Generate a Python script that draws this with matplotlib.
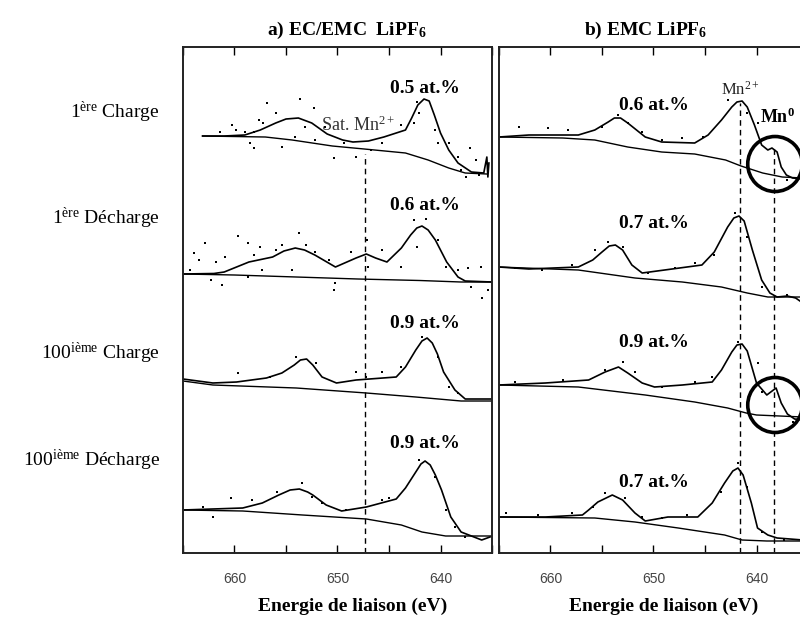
import matplotlib
matplotlib.use("Agg")
import matplotlib.pyplot as plt
from matplotlib.patches import Ellipse

plt.rcParams['font.family'] = 'Liberation Serif'
plt.rcParams['mathtext.fontset'] = 'custom'
plt.rcParams['mathtext.rm'] = 'Liberation Serif'
plt.rcParams['mathtext.bf'] = 'Liberation Serif:bold'
plt.rcParams['mathtext.it'] = 'Liberation Serif:italic'

# ---- a) EC/EMC LiPF6 : (energie eV, intensite u.a. empilee) ----
a1_env = [(663.1, 41.7), (661, 41.7), (659, 41.8), (657.5, 42.3), (656, 43.0), (655, 43.4),
          (653.8, 43.5), (652.5, 43.0), (651, 41.9), (649.5, 41.3), (648.5, 41.1), (647, 41.2),
          (645.5, 41.6), (644, 42.1), (643.4, 42.3), (642.8, 43.5), (642.2, 44.8), (641.6, 45.4),
          (641.1, 45.2), (640.6, 43.8), (640.0, 42.0), (639.2, 40.3), (638.3, 39.0), (637, 38.1),
          (635.8, 38.0), (635.5, 39.6), (635.4, 37.6), (635.3, 39.0)]
a1_bg = [(663.1, 41.7), (657, 41.6), (654.4, 41.3), (650.5, 40.7), (647.4, 40.4), (643.4, 40.0),
         (641.2, 39.3), (639.2, 38.5), (637.6, 38.0), (635.5, 37.9)]
a1_pts = [(656.8, 45.0), (653.6, 45.4), (656.0, 44.0), (657.6, 43.3), (657.2, 43.0), (659.9, 42.3),
          (659.0, 42.1), (658.1, 42.1), (658.5, 41.0), (658.1, 40.5), (655.4, 40.6), (654.1, 41.6),
          (653.2, 42.6), (652.3, 44.5), (652.2, 41.3), (651.2, 42.6), (650.3, 39.5), (661.4, 42.1),
          (660.2, 42.8), (642.3, 45.1), (642.1, 44.0), (642.6, 43.0), (640.5, 42.3), (640.2, 41.0),
          (639.2, 41.0), (638.3, 39.6), (637.1, 40.5), (636.6, 39.3), (638.0, 38.3), (637.5, 37.6),
          (636.3, 37.8), (646.7, 40.3), (648.2, 39.6), (649.4, 41.0), (645.7, 41.0), (643.8, 42.8)]

a2_env = [(665, 27.9), (662, 27.95), (661, 28.1), (658.6, 29.1), (656.3, 29.6), (655.2, 30.2),
          (654.1, 30.5), (653.2, 30.3), (652.2, 29.8), (650.2, 28.6), (648.2, 29.5), (647.2, 29.9),
          (646.3, 29.5), (645.2, 29.1), (643.8, 30.5), (642.9, 31.8), (642.3, 32.5), (641.8, 32.7),
          (641.2, 32.3), (640.5, 31.3), (639.4, 29.1), (638.3, 27.6), (637.6, 27.2), (635, 27.1)]
a2_bg = [(665, 27.9), (660, 27.8), (654, 27.6), (648, 27.4), (642, 27.25), (638, 27.1), (635, 27.1)]
a2_pts = [(662.9, 31.0), (663.9, 30.0), (663.4, 29.3), (661.8, 29.1), (660.9, 29.6), (664.3, 28.3),
          (662.3, 27.3), (661.2, 26.8), (659.7, 31.7), (658.7, 31.0), (657.5, 30.6), (658.1, 29.8),
          (656.0, 30.3), (655.4, 30.8), (653.7, 32.0), (653.1, 30.8), (652.2, 30.1), (650.8, 29.3),
          (650.2, 27.0), (650.3, 26.3), (657.3, 28.3), (658.7, 27.6), (654.4, 28.3), (647.1, 31.3),
          (645.7, 30.3), (648.7, 30.1), (647.0, 28.6), (642.6, 33.3), (641.4, 33.4), (642.3, 30.6),
          (640.2, 31.3), (638.3, 28.3), (637.3, 28.5), (636.1, 28.6), (637.0, 26.6), (636.0, 25.5),
          (635.4, 26.3), (643.8, 28.6), (639.5, 28.6)]

a3_env = [(665, 17.4), (662.1, 17.0), (659.8, 17.1), (656.9, 17.5), (655.4, 18.0), (654.2, 18.8),
          (653.6, 19.3), (653.0, 19.4), (652.4, 18.8), (651.5, 17.6), (650.1, 17.0), (648.2, 17.3),
          (644.3, 17.6), (643.4, 18.6), (642.4, 20.3), (641.8, 21.2), (641.3, 21.5), (640.8, 21.0),
          (640.3, 19.9), (639.7, 18.1), (638.6, 16.3), (637.6, 15.4), (635, 15.4)]
a3_bg = [(665, 17.2), (662.1, 16.8), (654, 16.5), (647.2, 16.0), (642.4, 15.6), (638, 15.2), (635, 15.2)]
a3_pts = [(659.7, 18.0), (656.6, 17.6), (654.0, 19.6), (652.1, 19.0), (648.2, 18.1), (647.2, 17.6),
          (645.7, 18.1), (643.8, 18.6), (640.2, 19.6), (639.2, 16.6), (638.3, 16.0), (641.8, 21.6)]

a4_env = [(665, 4.3), (659.2, 4.5), (657.3, 5.0), (655.7, 5.8), (654.6, 6.3), (653.7, 6.4),
          (652.9, 6.1), (652.4, 5.8), (651.1, 4.8), (649.6, 4.2), (647.2, 4.6), (644.3, 5.4),
          (643.4, 6.5), (642.4, 8.1), (641.9, 8.9), (641.5, 9.2), (641.0, 8.8), (640.5, 7.8),
          (639.9, 6.3), (639.0, 3.6), (638.0, 2.1), (637, 1.7), (636, 1.3), (635.2, 1.6)]
a4_bg = [(665, 4.3), (659.2, 4.2), (653.4, 3.8), (647.2, 3.4), (643.8, 2.8), (641.8, 2.1), (639.5, 1.7), (635, 1.7)]
a4_pts = [(663.1, 4.6), (662.1, 3.6), (660.3, 5.5), (658.3, 5.3), (655.9, 6.1), (653.4, 7.0),
          (652.5, 5.6), (651.5, 5.0), (649.2, 4.3), (645.7, 5.3), (645.0, 5.5), (642.1, 9.3),
          (640.5, 7.6), (639.5, 4.3), (638.6, 2.6), (637.6, 1.6)]

# ---- b) EMC LiPF6 ----
b1_env = [(665, 41.6), (662.1, 41.8), (657.3, 41.8), (655.7, 42.3), (654.4, 43.1), (653.8, 43.5),
          (653.2, 43.5), (652.5, 43.0), (650.8, 41.6), (649.2, 41.1), (646, 41.0), (644.7, 41.8),
          (643.4, 43.3), (642.4, 44.6), (641.9, 45.1), (641.4, 45.2), (640.9, 44.6), (640.2, 42.8),
          (639.5, 40.8), (638.9, 40.3), (638.5, 40.5), (638.0, 40.1), (637.6, 38.6), (637.1, 37.8),
          (636.5, 37.5), (635.5, 37.4)]
b1_bg = [(665, 41.6), (658.8, 41.5), (655.7, 41.3), (652.5, 40.6), (649.2, 40.1), (646, 39.9),
         (643, 39.3), (641.5, 38.7), (639.4, 38.0), (637.5, 37.6), (635.5, 37.5)]
b1_pts = [(663.1, 42.6), (660.2, 42.5), (658.3, 42.3), (655.0, 42.6), (653.4, 43.8), (652.5, 43.0),
          (651.1, 42.1), (649.2, 41.3), (647.2, 41.5), (645.2, 41.6), (642.8, 45.3), (640.9, 44.0),
          (639.9, 43.0), (637.0, 37.3)]

b2_env = [(665, 28.6), (662.1, 28.4), (657.3, 28.6), (655.9, 29.3), (655, 30.1), (654.3, 30.7),
          (653.7, 30.8), (653, 30.3), (652.1, 28.8), (651.1, 28.0), (648.2, 28.4), (645.3, 28.8),
          (644.1, 30.1), (642.8, 32.6), (642.2, 33.5), (641.7, 33.7), (641.2, 33.2), (640.4, 30.3),
          (639.5, 27.3), (638.7, 26.0), (638.0, 25.6), (637.0, 25.7), (636.2, 25.5), (635.5, 25.0)]
b2_bg = [(665, 28.6), (657.3, 28.3), (651.8, 27.5), (647.2, 27.1), (643.4, 26.6), (640.9, 26.0),
         (638.9, 25.6), (635.5, 25.6)]
b2_pts = [(663.4, 28.5), (660.8, 28.3), (657.9, 28.8), (655.7, 30.3), (654.4, 31.1), (653.0, 30.6),
          (650.5, 28.0), (647.9, 28.5), (646.0, 29.0), (644.1, 29.8), (642.1, 34.0), (640.9, 31.6),
          (639.5, 26.6), (637.0, 25.8)]

b3_env = [(665, 16.8), (660.5, 17.0), (656.3, 17.3), (654.7, 18.1), (653.4, 18.6), (652.5, 18.0),
          (651.1, 17.0), (649.9, 16.6), (647.2, 16.8), (644.3, 17.1), (643.4, 18.3), (642.4, 20.1),
          (641.9, 20.8), (641.4, 20.9), (640.9, 20.2), (640.0, 17.0), (639.0, 15.8), (638.1, 16.5),
          (637.6, 15.0), (637.0, 13.9), (636.3, 13.4), (635.5, 13.3)]
b3_bg = [(665, 16.8), (657.3, 16.6), (650.8, 15.8), (646, 15.1), (642.8, 14.5), (641, 14.0),
         (640, 13.8), (635.5, 13.6)]
b3_pts = [(663.4, 17.1), (658.8, 17.3), (654.7, 18.3), (653.0, 19.1), (651.8, 18.1), (649.2, 16.6),
          (646.0, 17.1), (644.3, 17.6), (641.8, 21.1), (639.9, 19.0), (639.5, 16.1), (636.5, 13.1)]

b4_env = [(665, 3.6), (660.5, 3.6), (656.9, 3.8), (656.3, 4.3), (655.4, 5.1), (654, 5.8),
          (653, 5.3), (651.8, 4.0), (650.8, 3.2), (648.6, 3.6), (645.7, 3.6), (644.3, 5.0),
          (643.1, 7.0), (642.3, 8.2), (641.8, 8.5), (641.3, 7.8), (640.5, 5.0), (639.9, 2.5),
          (638.9, 1.8), (638.0, 1.5), (635.5, 1.3)]
b4_bg = [(665, 3.6), (655.7, 3.5), (651.8, 3.1), (647.6, 2.5), (643.1, 1.8), (641.4, 1.3),
         (639, 1.2), (635.5, 1.2)]
b4_pts = [(664.3, 4.0), (661.2, 3.8), (657.9, 4.0), (655.9, 4.6), (654.7, 6.0), (652.8, 5.5),
          (651.1, 3.6), (649.2, 3.5), (646.7, 3.8), (643.4, 6.1), (641.8, 9.0), (640.9, 6.6),
          (639.5, 2.1), (637.3, 1.3)]

rows = ["1$^{\\mathrm{ère}}$ Charge", "1$^{\\mathrm{ère}}$ Décharge",
        "100$^{\\mathrm{ième}}$ Charge", "100$^{\\mathrm{ième}}$ Décharge"]
a_pct = ["0.5 at.%", "0.6 at.%", "0.9 at.%", "0.9 at.%"]
b_pct = ["0.6 at.%", "0.7 at.%", "0.9 at.%", "0.7 at.%"]
a_sat = 647.3        # Sat. Mn2+
b_mn2 = 641.6        # Mn2+
b_mn0 = 638.3        # Mn0
xticks = [660, 650, 640]
xminor = [665, 655, 645, 635]


def trace(ax, env, bg, pts):
    e, v = zip(*env)
    ax.plot(e, v, color='black', lw=1.2)
    e, v = zip(*bg)
    ax.plot(e, v, color='black', lw=1.0)
    e, v = zip(*pts)
    ax.plot(e, v, ls='none', marker='s', ms=1.6, color='black', mew=0)


def style(ax, title, tx, lx):
    ax.set_xlim(665, 635)
    ax.set_ylim(0, 50.6)
    ax.set_yticks([])
    ax.set_xticks(xticks)
    ax.set_xticks(xminor, minor=True)
    ax.tick_params(axis='x', which='both', direction='in', top=True, bottom=True,
                   length=6, width=1.0, pad=14, labelsize=10, labelcolor='#444444')
    for lab in ax.get_xticklabels():
        lab.set_family('Liberation Sans')
    for sp in ax.spines.values():
        sp.set_linewidth(1.4)
        sp.set_color('#222222')
    ax.set_title(title, fontsize=14, fontweight='bold', x=tx, pad=9)
    ax.set_xlabel("Energie de liaison (eV)", fontsize=14, fontweight='bold')
    ax.xaxis.set_label_coords(lx, -0.088)


fig = plt.figure(figsize=(8, 6.21), dpi=100)
ax_a = fig.add_axes([0.22875, 0.1095, 0.38625, 0.8148])
ax_b = fig.add_axes([0.62375, 0.1095, 0.38625, 0.8148])

for env, bg, pts in [(a1_env, a1_bg, a1_pts), (a2_env, a2_bg, a2_pts),
                     (a3_env, a3_bg, a3_pts), (a4_env, a4_bg, a4_pts)]:
    trace(ax_a, env, bg, pts)
for env, bg, pts in [(b1_env, b1_bg, b1_pts), (b2_env, b2_bg, b2_pts),
                     (b3_env, b3_bg, b3_pts), (b4_env, b4_bg, b4_pts)]:
    trace(ax_b, env, bg, pts)

style(ax_a, "a) EC/EMC  LiPF$_{\\mathbf{6}}$", 0.53, 0.55)
style(ax_b, "b) EMC LiPF$_{\\mathbf{6}}$", 0.476, 0.534)

# lignes de reference
ax_a.plot([a_sat, a_sat], [0, 39.9], color='black', lw=1.0, ls=(0, (4, 3)))
ax_b.plot([b_mn2, b_mn2], [0, 45.0], color='black', lw=1.0, ls=(0, (4, 3)))
ax_b.plot([b_mn0, b_mn0], [0, 40.5], color='black', lw=1.0, ls=(0, (4, 3)))

# pourcentages
a_ypos = [46.5, 34.8, 23.0, 11.0]
b_ypos = [44.8, 33.0, 21.1, 7.1]
for t, y in zip(a_pct, a_ypos):
    ax_a.text(641.5, y, t, ha='center', va='center', fontsize=14, fontweight='bold')
for t, y in zip(b_pct, b_ypos):
    ax_b.text(650.0, y, t, ha='center', va='center', fontsize=14, fontweight='bold')

ax_a.text(651.6, 42.8, "Sat. Mn$^{2+}$", ha='left', va='center', fontsize=13, color='#333333')
ax_b.text(b_mn2, 46.3, "Mn$^{2+}$", ha='center', va='center', fontsize=12, color='#222222')
ax_b.text(639.7, 43.6, "Mn$^{\\mathbf{0}}$", ha='left', va='center', fontsize=13, fontweight='bold')

# cercles autour de Mn0
for cy in [38.9, 14.8]:
    ax_b.add_patch(Ellipse((638.2, cy), width=5.3, height=5.5, fill=False, lw=2.6,
                           ec='black', clip_on=False))

# libelles des lignes
for t, ypx in zip(rows, [112, 218, 353, 460]):
    fig.text(0.2, 1 - ypx / 621, t, ha='right', va='center', fontsize=14)

fig.savefig("out.png", dpi=100)
